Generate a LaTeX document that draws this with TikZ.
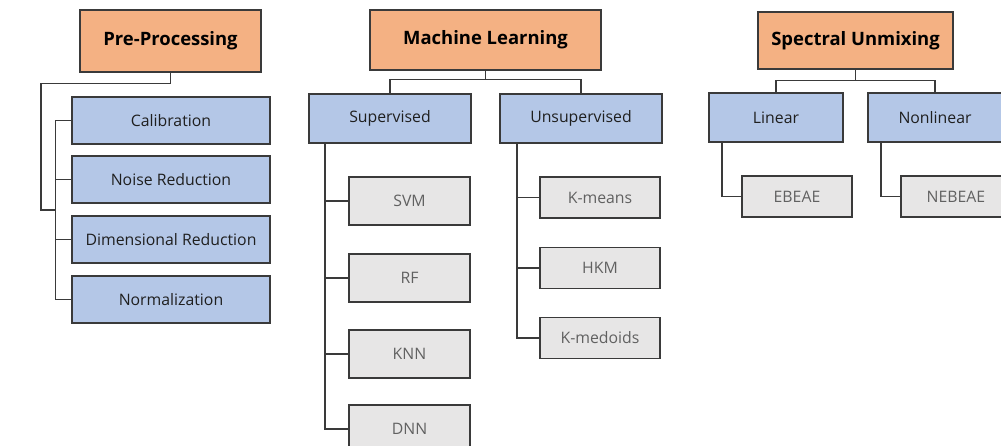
\documentclass[tikz,border=0pt]{standalone}
\usepackage{fontspec}
\setmainfont{Open Sans}
\usetikzlibrary{calc}

\definecolor{headfill}{HTML}{F4B183}
\definecolor{catfill}{HTML}{B4C7E7}
\definecolor{leaffill}{HTML}{E7E6E6}
\definecolor{edgegray}{HTML}{3A3A3A}

\tikzset{
	box/.style={draw=edgegray, line width=0.8pt, inner sep=0pt, align=center},
	head/.style={box, fill=headfill, font=\bfseries\fontsize{10.5}{12}\selectfont, text=black},
	cat/.style={box, fill=catfill, font=\fontsize{9}{11}\selectfont, text=black!88},
	leaf/.style={box, fill=leaffill, font=\fontsize{9}{11}\selectfont, text=black!62},
	link/.style={draw=edgegray, line width=0.8pt}
}

\begin{document}
\begin{tikzpicture}[x=0.02cm, y=-0.02cm]
	%%%%% START %%%%%
	\useasboundingbox (0,0) rectangle (1001,446);
	\clip (0,0) rectangle (1001,446);
	
	% pre-processing
	\node[head, minimum width=3.62cm, minimum height=1.24cm] (pre) at (170.5,41) {Pre-Processing};
	\node[cat, minimum width=3.96cm, minimum height=0.94cm] (cal) at (171,120.5) {Calibration};
	\node[cat, minimum width=3.96cm, minimum height=0.94cm] (noise) at (171,179.5) {Noise Reduction};
	\node[cat, minimum width=3.96cm, minimum height=0.94cm] (dim) at (171,239.5) {Dimensional Reduction};
	\node[cat, minimum width=3.96cm, minimum height=0.94cm] (norm) at (171,299.5) {Normalization};
	\coordinate (prebus) at (41,210);
	
	\draw[link] (pre.south) -- ++(0,11) -| (prebus) -- ++(15,0);
	\draw[link] (cal.west) -- ++(-16,0) |- (norm.west);
	\draw[link] (noise.west) -- ++(-16,0);
	\draw[link] (dim.west) -- ++(-16,0);
	
	% machine learning
	\node[head, minimum width=4.62cm, minimum height=1.2cm] (ml) at (485.5,40) {Machine Learning};
	\node[cat, minimum width=3.24cm, minimum height=0.98cm] (sup) at (390,118.5) {Supervised};
	\node[cat, minimum width=3.24cm, minimum height=0.98cm] (unsup) at (581,118.5) {Unsupervised};
	
	\node[leaf, minimum width=2.42cm, minimum height=0.96cm] (svm) at (409.5,201) {SVM};
	\node[leaf, minimum width=2.42cm, minimum height=0.96cm] (rf) at (409.5,278) {RF};
	\node[leaf, minimum width=2.42cm, minimum height=0.96cm] (knn) at (409.5,354) {KNN};
	\node[leaf, minimum width=2.42cm, minimum height=0.96cm] (dnn) at (409.5,429) {DNN};
	
	\node[leaf, minimum width=2.4cm, minimum height=0.82cm] (kmeans) at (600,197.5) {K-means};
	\node[leaf, minimum width=2.4cm, minimum height=0.82cm] (hkm) at (600,268) {HKM};
	\node[leaf, minimum width=2.4cm, minimum height=0.82cm] (kmedoids) at (600,338) {K-medoids};
	
	\draw[link] (ml.south) -- ++(0,9) -| (sup.north);
	\draw[link] (ml.south) -- ++(0,9) -| (unsup.north);
	\draw[link] (sup.south -| 325,0) |- (dnn.west);
	\draw[link] (svm.west) -- ++(-24,0);
	\draw[link] (rf.west) -- ++(-24,0);
	\draw[link] (knn.west) -- ++(-24,0);
	\draw[link] (unsup.south -| 517,0) |- (kmedoids.west);
	\draw[link] (kmeans.west) -- ++(-23,0);
	\draw[link] (hkm.west) -- ++(-23,0);
	
	% spectral unmixing
	\node[head, minimum width=3.9cm, minimum height=1.14cm] (su) at (855.5,40.5) {Spectral Unmixing};
	\node[cat, minimum width=2.68cm, minimum height=0.98cm] (lin) at (776,117.5) {Linear};
	\node[cat, minimum width=2.68cm, minimum height=0.98cm] (nonlin) at (935,117.5) {Nonlinear};
	\node[leaf, minimum width=2.2cm, minimum height=0.82cm] (ebeae) at (797,196.5) {EBEAE};
	\node[leaf, minimum width=2.2cm, minimum height=0.82cm] (nebeae) at (956,196.5) {NEBEAE};
	
	\draw[link] (su.south) -- ++(0,11) -| (lin.north);
	\draw[link] (su.south) -- ++(0,11) -| (nonlin.north);
	\draw[link] (lin.south -| 722,0) |- (ebeae.west);
	\draw[link] (nonlin.south -| 881,0) |- (nebeae.west);
	%%%%% END %%%%%
\end{tikzpicture}
\end{document}
